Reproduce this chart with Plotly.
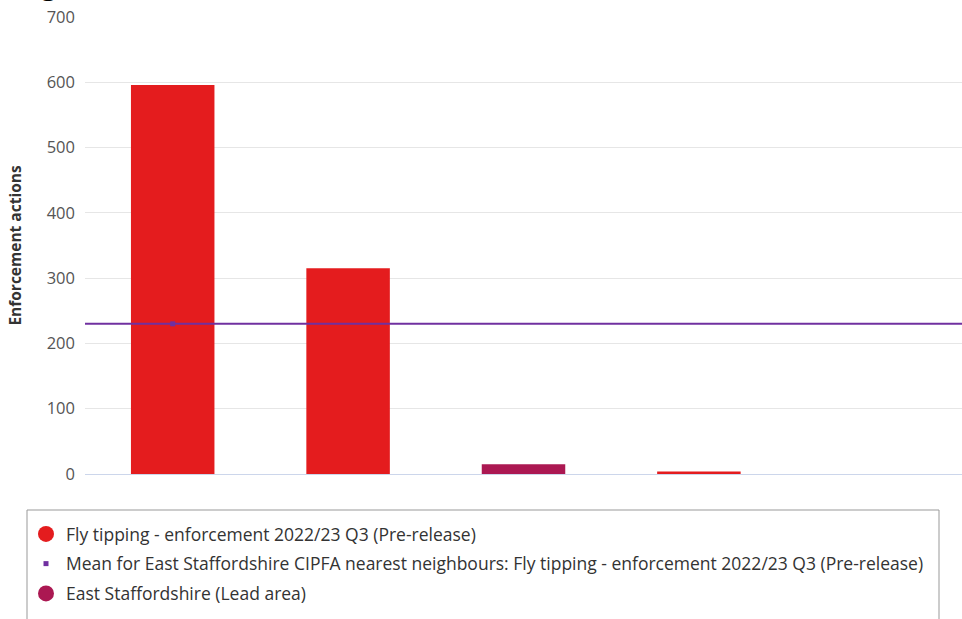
import plotly.graph_objects as go

# ---- data ----
categories = ["Area A", "Area B", "East Staffordshire", "Area D", "Area E"]
values = [596, 315, 15, 4, 0]
lead_area = "East Staffordshire"
mean_value = 230
y_ticks = [0, 100, 200, 300, 400, 500, 600, 700]

series_name = "Fly tipping - enforcement 2022/23 Q3 (Pre-release)"
mean_name = "Mean for East Staffordshire CIPFA nearest neighbours: Fly tipping - enforcement 2022/23 Q3 (Pre-release)"
lead_name = "East Staffordshire (Lead area)"
title_text = "Fly tipping: ranking enforcement actions, (Pre-release)"

RED = "#e41c1e"
MAROON = "#ab1852"
PURPLE = "#7030a0"

W, H = 962, 619
ML, MR, MT, MB = 85, 0, 17, 145
plot_h = H - MT - MB
plot_w = W - ML - MR


def py(p):  # pixel y -> paper y
    return (H - MB - p) / plot_h


def px(p):  # pixel x -> paper x
    return (p - ML) / plot_w


colors = [MAROON if c == lead_area else RED for c in categories]

fig = go.Figure()
fig.add_trace(go.Bar(
    x=categories, y=values, marker=dict(color=colors, line=dict(width=0)),
    showlegend=False, hoverinfo="x+y",
))
# legend entries
fig.add_trace(go.Scatter(
    x=[None], y=[None], mode="markers", name=series_name, legendgroup="g1",
    marker=dict(symbol="circle", size=17, color=RED),
))
fig.add_trace(go.Scatter(
    x=[categories[0]], y=[mean_value], mode="markers", name=mean_name, legendgroup="g2",
    marker=dict(symbol="square", size=5, color=PURPLE),
))
fig.add_trace(go.Scatter(
    x=[None], y=[None], mode="markers", name=lead_name, legendgroup="g3",
    marker=dict(symbol="circle", size=17, color=MAROON),
))

# mean line across full plot width
fig.add_shape(type="line", xref="paper", yref="y", x0=0, x1=1,
              y0=mean_value, y1=mean_value,
              line=dict(color=PURPLE, width=2), layer="above")

# legend box
fig.add_shape(type="rect", xref="paper", yref="paper",
              x0=px(27), x1=px(939), y0=py(630), y1=py(510),
              line=dict(color="#999999", width=1), fillcolor="rgba(0,0,0,0)")

# title, clipped at the top edge (only descenders visible)
fig.add_annotation(
    text="<b>" + title_text + "</b>",
    xref="paper", yref="paper", x=px(-196), y=py(5.5), xanchor="left", yanchor="bottom",
    showarrow=False, font=dict(family="Open Sans", size=26, color="#000000"),
)

fig.update_layout(
    width=W, height=H,
    margin=dict(l=ML, r=MR, t=MT, b=MB),
    paper_bgcolor="white", plot_bgcolor="white",
    bargap=0.524,
    font=dict(family="Open Sans", color="#333333"),
    showlegend=True,
    legend=dict(
        x=px(26), y=py(516), xanchor="left", yanchor="top",
        orientation="v", font=dict(size=17.5, color="#333333"),
        bgcolor="rgba(0,0,0,0)", borderwidth=0,
        tracegroupgap=4, itemsizing="trace",
    ),
    xaxis=dict(
        showticklabels=False, ticks="", showgrid=False,
        showline=True, linecolor="#ccd6eb", linewidth=1,
        range=[-0.5, len(categories) - 0.5],
    ),
    yaxis=dict(
        range=[0, 700], tickvals=y_ticks, showgrid=True, gridcolor="#e6e6e6",
        gridwidth=1, zeroline=False, showline=False,
        tickfont=dict(size=16.5, color="#555555"), ticks="", ticklen=0,
        ticklabelstandoff=9,
        title=dict(text="<b>Enforcement actions</b>", font=dict(size=15.5, color="#333333"),
                   standoff=21),
    ),
)

fig.write_html("out.html", config={"displayModeBar": False},
               post_script="document.body.style.margin='0';document.body.style.overflow='hidden';")
